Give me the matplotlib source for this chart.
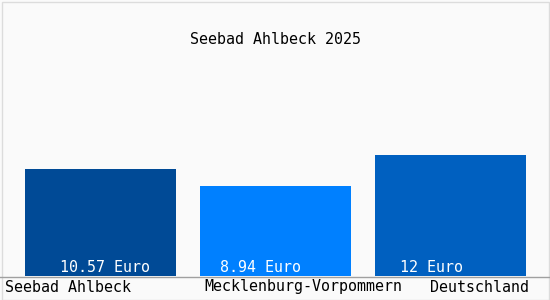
import matplotlib
matplotlib.use("Agg")
import matplotlib.pyplot as plt
from matplotlib.patches import Rectangle

title = "Seebad Ahlbeck 2025"
categories = ["Seebad Ahlbeck", "Mecklenburg-Vorpommern", "Deutschland"]
values = [10.57, 8.94, 12]
value_labels = ["10.57 Euro", "8.94 Euro", "12 Euro"]

colors = ["#004a96", "#0080ff", "#0060c0"]
# style: horizontal text offsets (relative to bar centre, data units)
label_dx = [-0.231, -0.319, -0.289]
cat_dx = [-0.546, -0.405, -0.118]

W, H, DPI = 550, 300, 100
fig = plt.figure(figsize=(W / DPI, H / DPI), dpi=DPI)
fig.patch.set_facecolor("#fafafa")

base_px = 276
px_per_unit = 10.08
ax = fig.add_axes([0, (H - base_px) / H, 1, base_px / H])
ax.set_facecolor("none")
spacing = 175.0
x0 = 100.5
ax.set_xlim(-x0 / spacing, (W - x0) / spacing)
ax.set_ylim(0, base_px / px_per_unit)
for s in ax.spines.values():
    s.set_visible(False)
ax.set_xticks([])
ax.set_yticks([])

xs = list(range(len(values)))
ax.bar(xs, values, width=151 / spacing, color=colors, zorder=2)

font = dict(family="DejaVu Sans Mono", fontsize=10.8)
for i, (x, lab) in enumerate(zip(xs, value_labels)):
    ax.text(x + label_dx[i], 8 / px_per_unit, lab, color="white",
            ha="left", va="center", zorder=3, **font)
for i, (x, lab) in enumerate(zip(xs, categories)):
    ax.text(x + cat_dx[i], -11 / px_per_unit, lab, color="black",
            ha="left", va="center", clip_on=False, **font)

# baseline across full width
fig.add_artist(plt.Line2D([0, 1], [(H - base_px - 0.5) / H] * 2,
                          transform=fig.transFigure, color="#a0a0a0", lw=1))
# border
fig.add_artist(Rectangle((1.5 / W, 0.5 / H), (W - 3) / W, (H - 2) / H,
                         transform=fig.transFigure, fill=False,
                         edgecolor="#dcdcdc", lw=1))

fig.text(275 / W, 1 - 40 / H, title, ha="center", va="center",
         color="black", **font)

fig.savefig("out.png", dpi=DPI, facecolor=fig.get_facecolor())
